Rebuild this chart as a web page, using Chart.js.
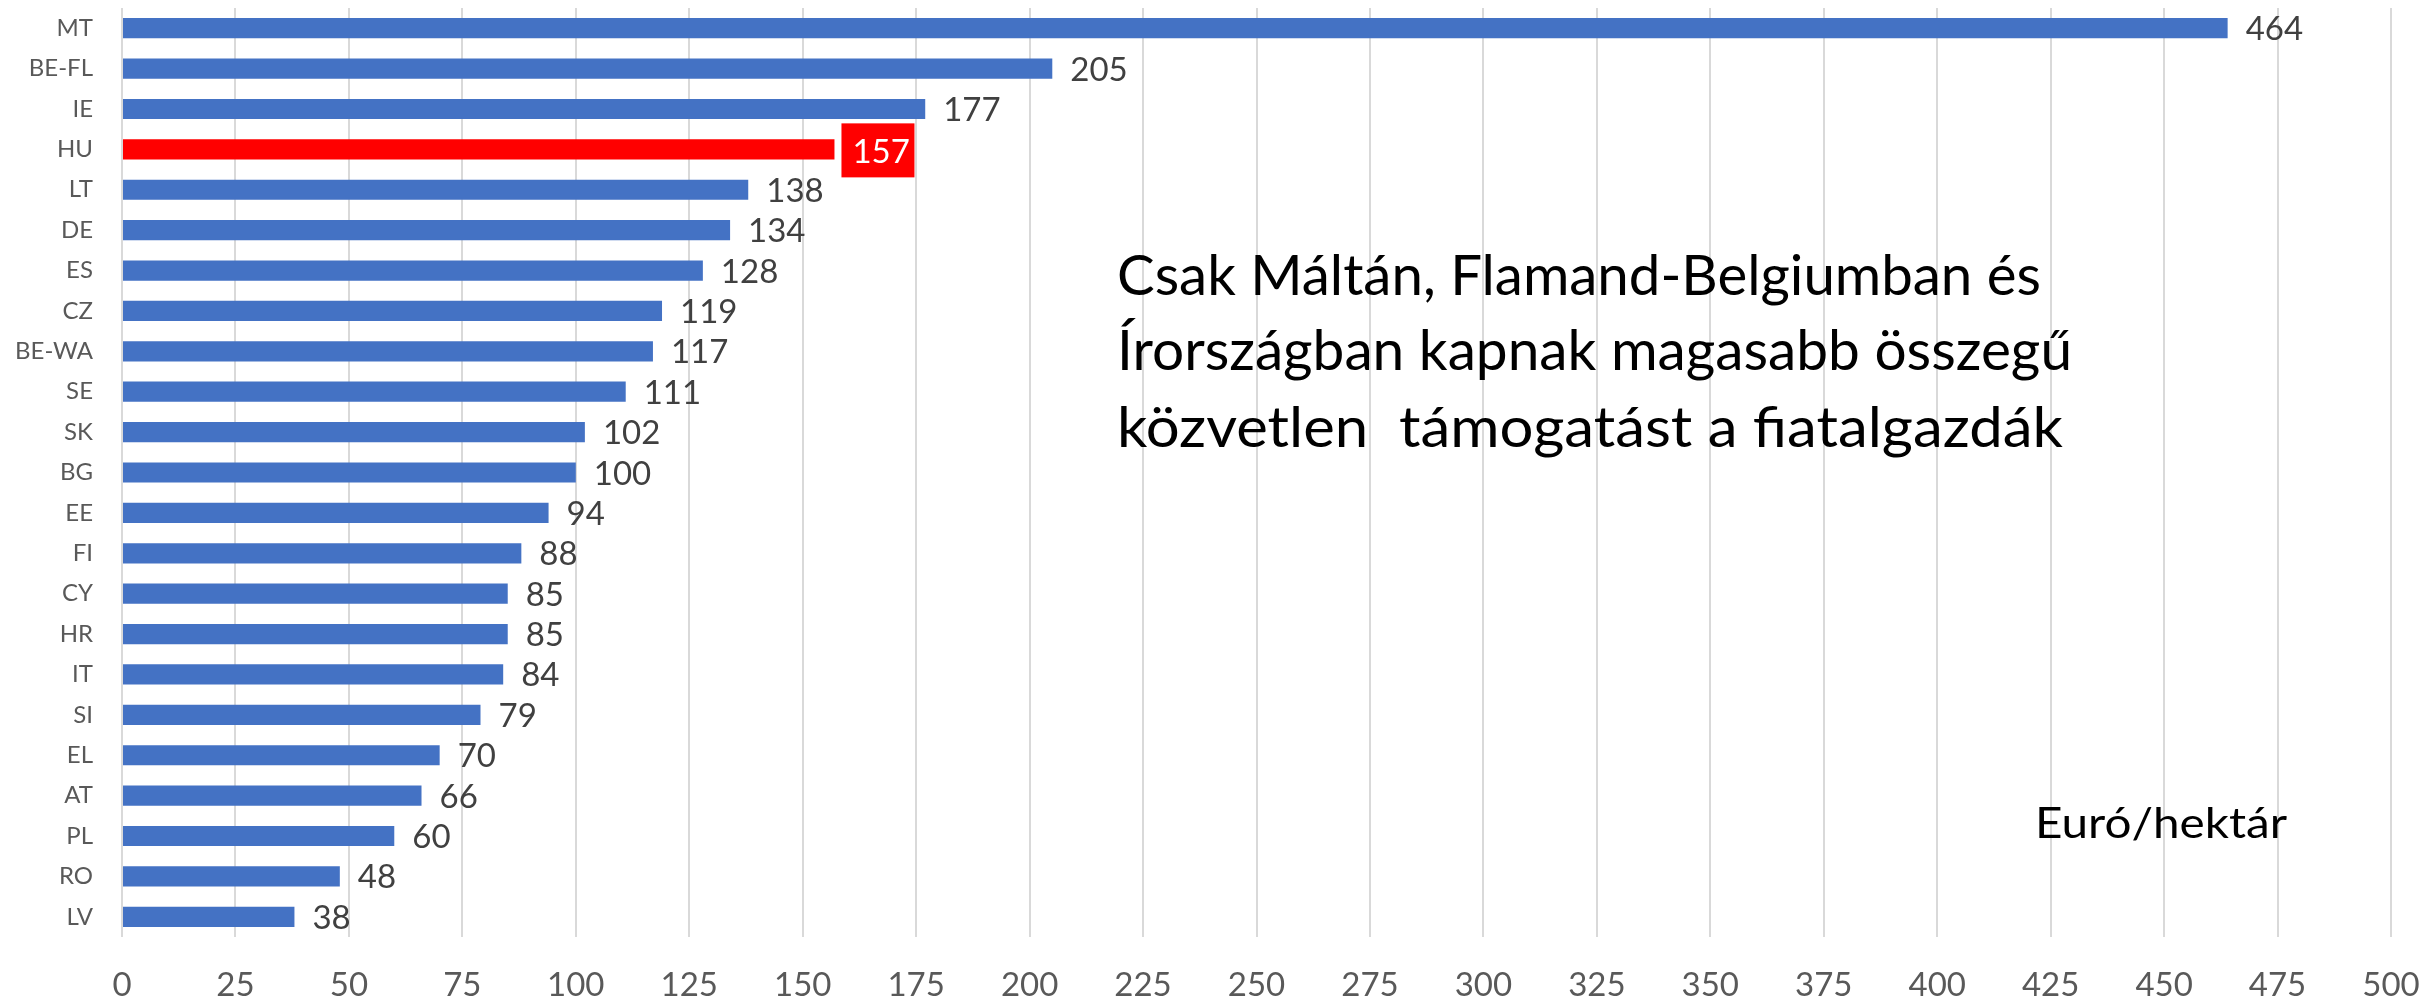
<!DOCTYPE html>
<html>
<head>
<meta charset="utf-8">
<script src="https://cdn.jsdelivr.net/npm/chart.js"></script>
<style>
    body { margin: 0; background: #fff; }
    #wrap { width: 2428px; height: 1001px; position: relative; }
</style>
</head>
<body>
<div id="wrap"><canvas id="bar"></canvas></div>
<script>
var countries = ['MT', 'BE-FL', 'IE', 'HU', 'LT', 'DE', 'ES', 'CZ', 'BE-WA', 'SE', 'SK', 'BG',
    'EE', 'FI', 'CY', 'HR', 'IT', 'SI', 'EL', 'AT', 'PL', 'RO', 'LV'];
var support = [464, 205, 177, 157, 138, 134, 128, 119, 117, 111, 102, 100,
    94, 88, 85, 85, 84, 79, 70, 66, 60, 48, 38];
var highlight = 'HU';
var xMax = 500;
var xStep = 25;
var noteLines = ['Csak Máltán, Flamand-Belgiumban és',
    'Írországban kapnak magasabb összegű',
    'közvetlen  támogatást a fiatalgazdák'];
var unitLabel = 'Euró/hektár';

var fontName = 'Lato, "Open Sans", sans-serif';

var barColors = countries.map(function (c) {
    return c === highlight ? '#FF0000' : '#4472C4';
});

// value labels next to the bars (no datalabels plugin offline)
var valueLabels = {
    id: 'valueLabels',
    afterDatasetsDraw: function (chart) {
        var ctx = chart.ctx;
        var meta = chart.getDatasetMeta(0);
        ctx.save();
        ctx.font = '33px ' + fontName;
        ctx.textBaseline = 'alphabetic';
        meta.data.forEach(function (el, i) {
            var txt = String(support[i]);
            var base = el.y + 12;
            if (countries[i] === highlight) {
                ctx.fillStyle = '#FF0000';
                ctx.fillRect(el.x + 7, el.y - 26, 73, 54);
                ctx.fillStyle = '#FFFFFF';
                ctx.fillText(txt, el.x + 18, base + 2);
            } else {
                ctx.fillStyle = '#404040';
                ctx.fillText(txt, el.x + 18, base);
            }
        });
        ctx.restore();
    }
};

// text box and unit label
var notes = {
    id: 'notes',
    afterDraw: function (chart) {
        var ctx = chart.ctx;
        ctx.save();
        ctx.fillStyle = '#000000';
        ctx.textBaseline = 'alphabetic';
        ctx.font = '56px ' + fontName;
        var widths = [924, 955, 946];
        var baselines = [295, 370, 447];
        for (var i = 0; i < noteLines.length; i++) {
            var w = ctx.measureText(noteLines[i]).width;
            ctx.save();
            ctx.translate(1117, baselines[i]);
            ctx.scale(widths[i] / w, 1);
            ctx.fillText(noteLines[i], 0, 0);
            ctx.restore();
        }
        ctx.font = '43px ' + fontName;
        var uw = ctx.measureText(unitLabel).width;
        ctx.translate(2035, 838);
        ctx.scale(252 / uw, 1);
        ctx.fillText(unitLabel, 0, 0);
        ctx.restore();
    }
};

var myChart = new Chart(document.getElementById('bar'), {
    type: 'bar',
    data: {
        labels: countries,
        datasets: [{
            data: support,
            backgroundColor: barColors,
            borderWidth: 0,
            barPercentage: 0.5,
            categoryPercentage: 1.0
        }]
    },
    options: {
        indexAxis: 'y',
        responsive: true,
        maintainAspectRatio: false,
        devicePixelRatio: 1,
        animation: false,
        layout: { padding: { left: 0, right: 37, top: 8, bottom: 0 } },
        plugins: {
            legend: { display: false },
            title: { display: false },
            tooltip: { enabled: false }
        },
        scales: {
            x: {
                min: 0,
                max: xMax,
                ticks: {
                    stepSize: xStep,
                    color: '#595959',
                    padding: 29,
                    font: { family: fontName, size: 33 }
                },
                grid: { color: '#D9D9D9', lineWidth: 2, drawTicks: false },
                border: { display: false },
                afterFit: function (scale) {
                    scale.height = 64;
                    scale.paddingLeft = 0;
                    scale.paddingRight = 0;
                }
            },
            y: {
                ticks: {
                    color: '#595959',
                    padding: 29,
                    font: { family: fontName, size: 24 }
                },
                grid: { display: false, drawTicks: false },
                border: { display: false },
                afterFit: function (scale) {
                    scale.width = 122;
                    scale.paddingTop = 0;
                    scale.paddingBottom = 0;
                }
            }
        }
    },
    plugins: [valueLabels, notes]
});
</script>
</body>
</html>
